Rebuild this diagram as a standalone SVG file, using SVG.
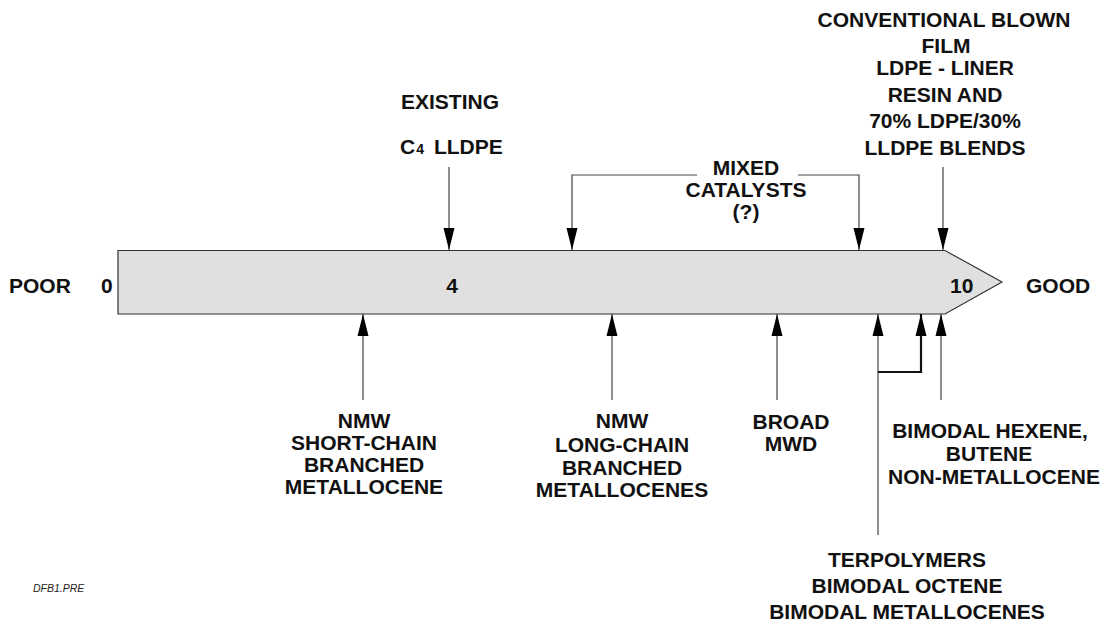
<svg xmlns="http://www.w3.org/2000/svg" width="1107" height="623" viewBox="0 0 1107 623">
<style>
.t{font-family:"Liberation Sans",Arial,sans-serif;font-weight:bold;font-size:21px;fill:#111}
.c{text-anchor:middle}
.s{fill:none;stroke:#444;stroke-width:1.2}
.k{fill:none;stroke:#111;stroke-width:2.2}
.n{font-family:"Liberation Sans",Arial,sans-serif;font-style:italic;font-size:10.5px;fill:#222}
</style>
<defs>
<marker id="ah" markerUnits="userSpaceOnUse" markerWidth="23" markerHeight="12" refX="22" refY="6" orient="auto">
<path d="M0,0.5 L22,6 L0,11.5 z" fill="#000"/>
</marker>
</defs>
<rect width="1107" height="623" fill="#fff"/>
<g id="scale-bar">
<path d="M118,250.5 L945,250.5 L1002,282 L945,314 L118,314 z" fill="#e0e0e0" stroke="#333" stroke-width="1.2"/>
<text class="t" x="9" y="293">POOR</text>
<text class="t" x="101" y="293">0</text>
<text class="t c" x="452" y="293">4</text>
<text class="t" x="950" y="293">10</text>
<text class="t" x="1026" y="293">GOOD</text>
</g>
<g id="existing-c4">
<text class="t c" x="450" y="109">EXISTING</text>
<text class="t" x="400" y="154">C<tspan font-size="14" dx="1">4</tspan><tspan dx="10">LLDPE</tspan></text>
</g>
<g id="mixed-catalysts">
<text class="t c" x="746" y="175">MIXED</text>
<text class="t c" x="746" y="197">CATALYSTS</text>
<text class="t c" x="746" y="219">(?)</text>
</g>
<g id="conventional">
<text class="t c" x="944" y="27">CONVENTIONAL BLOWN</text>
<text class="t c" x="946" y="53">FILM</text>
<text class="t c" x="945" y="75">LDPE - LINER</text>
<text class="t c" x="945" y="102">RESIN AND</text>
<text class="t c" x="945" y="128">70% LDPE/30%</text>
<text class="t c" x="945" y="155">LLDPE BLENDS</text>
</g>
<g id="nmw-short">
<text class="t c" x="364" y="428">NMW</text>
<text class="t c" x="364" y="450">SHORT-CHAIN</text>
<text class="t c" x="364" y="472">BRANCHED</text>
<text class="t c" x="364" y="494">METALLOCENE</text>
</g>
<g id="nmw-long">
<text class="t c" x="622" y="428">NMW</text>
<text class="t c" x="622" y="452">LONG-CHAIN</text>
<text class="t c" x="622" y="475">BRANCHED</text>
<text class="t c" x="622" y="497">METALLOCENES</text>
</g>
<g id="broad-mwd">
<text class="t c" x="791" y="429">BROAD</text>
<text class="t c" x="791" y="451">MWD</text>
</g>
<g id="bimodal-hexene">
<text class="t c" x="990" y="438">BIMODAL HEXENE,</text>
<text class="t c" x="989" y="461">BUTENE</text>
<text class="t c" x="994" y="484">NON-METALLOCENE</text>
</g>
<g id="terpolymers">
<text class="t c" x="907" y="567">TERPOLYMERS</text>
<text class="t c" x="907" y="593">BIMODAL OCTENE</text>
<text class="t c" x="907" y="619">BIMODAL METALLOCENES</text>
</g>
<g id="note">
<text class="n" x="33" y="592">DFB1.PRE</text>
</g>
<g id="connectors">
<path class="s" d="M449,167 L449,250" marker-end="url(#ah)"/>
<path class="s" d="M697,175 L572,175 L572,250" marker-end="url(#ah)"/>
<path class="s" d="M798,175 L859,175 L859,250" marker-end="url(#ah)"/>
<path class="s" d="M943,167 L943,250" marker-end="url(#ah)"/>
<path class="s" d="M363,400 L363,314" marker-end="url(#ah)"/>
<path class="s" d="M612,400 L612,314" marker-end="url(#ah)"/>
<path class="s" d="M777,400 L777,314" marker-end="url(#ah)"/>
<path class="s" d="M878,535 L878,314" marker-end="url(#ah)"/>
<path class="k" d="M878,372 L921,372 L921,314" marker-end="url(#ah)"/>
<path class="s" d="M941,400 L941,314" marker-end="url(#ah)"/>
</g>
</svg>
